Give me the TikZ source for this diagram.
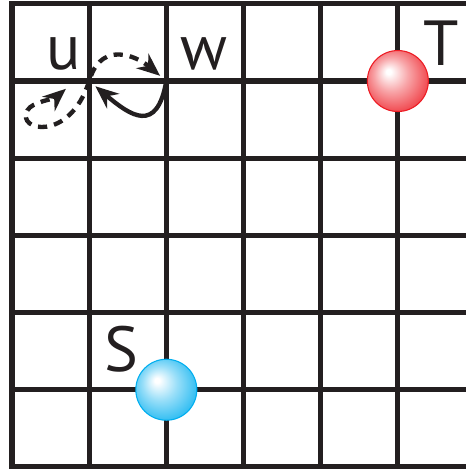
\documentclass[tikz,border=0pt]{standalone}
\usepackage{fontspec}
\setmainfont{PT Sans}
\usetikzlibrary{arrows.meta}
\definecolor{ink}{RGB}{35,31,32}
\definecolor{ballred}{RGB}{237,28,36}
\definecolor{ballblue}{RGB}{0,174,239}
\pgfdeclareradialshading{redball}{\pgfpoint{-8bp}{8bp}}{color(0bp)=(white); color(2bp)=(white);
  color(14bp)=(ballred!40!white); color(28bp)=(ballred!80!white); color(42bp)=(ballred)}
\pgfdeclareradialshading{blueball}{\pgfpoint{-8bp}{8bp}}{color(0bp)=(white); color(2bp)=(white);
  color(14bp)=(ballblue!40!white); color(28bp)=(ballblue!80!white); color(42bp)=(ballblue)}

\begin{document}
\begin{tikzpicture}[
  font=\fontsize{23.5}{24}\selectfont,
  g/.style={line width=1.9pt, draw=ink, line cap=rect},
  ball/.style={circle, minimum size=0.79cm, inner sep=0pt, draw=#1, line width=0.4pt, shade},
  lab/.style={inner sep=0pt, text=ink},
  d/.style={-{Stealth[length=8.5pt,width=7pt]}, line width=1.6pt, draw=ink, fill=none},
  dsh/.style={d, dash pattern=on 3.4pt off 2.6pt}
]
\useasboundingbox (-0.155,-0.04) rectangle (5.88,6.05);
\clip (-0.155,-0.04) rectangle (5.88,6.05);
\draw[g] (0,0) grid (6.5,6);
% grid points
\coordinate (u) at (1,5);
\coordinate (w) at (2,5);
\coordinate (uend) at (0.7,4.9);
\node[ball=ballred, shading=redball] (T) at (5,5) {};
\node[ball=ballblue, shading=blueball] (S) at (2,1) {};
\node[lab] (lu) at (0.67,5.35) {u};
\node[lab] (lw) at (2.49,5.35) {w};
\node[lab] (lT) at (5.56,5.49) {T};
\node[lab] (lS) at (1.42,1.52) {S};
% moves
\draw[dsh, shorten <=2pt, shorten >=3pt] (u) to[out=70, in=140, looseness=1.35] (w);
\draw[d, shorten >=3pt] (w) to[out=-100, in=-40, looseness=1.8] (u);
\draw[dsh] (u) .. controls (0.75,4.2) and (0.05,4.35) .. (0.2,4.62)
  .. controls (0.26,4.73) and (0.55,4.77) .. (uend);
\end{tikzpicture}
\end{document}
